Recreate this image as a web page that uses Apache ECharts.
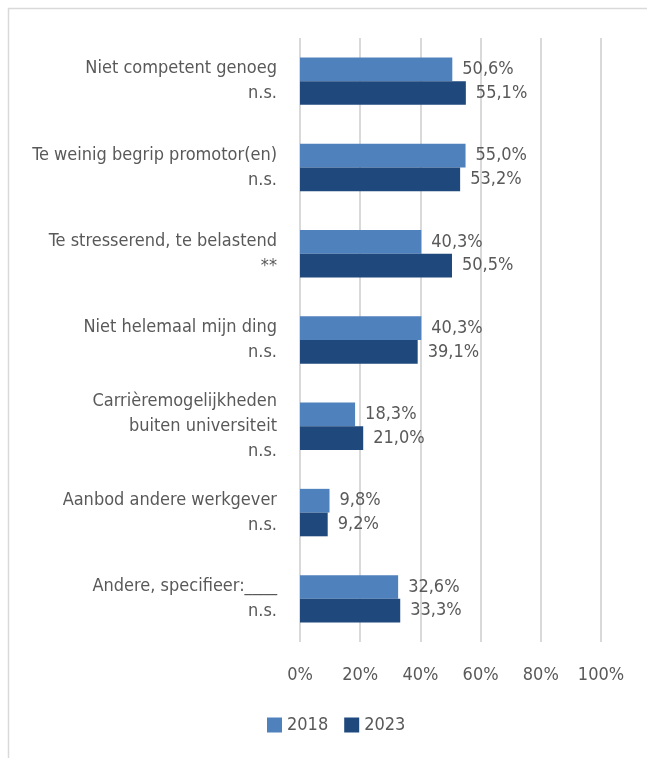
<!DOCTYPE html>
<html>
<head>
<meta charset="utf-8">
<script src="https://cdn.jsdelivr.net/npm/echarts@6/dist/echarts.min.js"></script>
<style>
html,body{margin:0;padding:0;background:#fff;}
#c{width:647px;height:758px;}
</style>
</head>
<body>
<div id="c"></div>
<script>
const categories = [
  "Niet competent genoeg\nn.s.",
  "Te weinig begrip promotor(en)\nn.s.",
  "Te stresserend, te belastend\n**",
  "Niet helemaal mijn ding\nn.s.",
  "Carrièremogelijkheden\nbuiten universiteit\nn.s.",
  "Aanbod andere werkgever\nn.s.",
  "Andere, specifieer:____\nn.s."
];
const values2018 = [50.6, 55.0, 40.3, 40.3, 18.3, 9.8, 32.6];
const values2023 = [55.1, 53.2, 50.5, 39.1, 21.0, 9.2, 33.3];
const seriesNames = ["2018", "2023"];
const xTicks = [0, 20, 40, 60, 80, 100];

const FONT = "'Liberation Sans Narrow', 'DejaVu Sans Condensed', sans-serif";
const TXT = "#595959";
const fmt = p => p.value.toFixed(1).replace('.', ',') + '%';

const chart = echarts.init(document.getElementById('c'), null, {renderer: 'canvas'});
chart.setOption({
  animation: false,
  backgroundColor: '#fff',
  textStyle: {fontFamily: FONT, color: TXT},
  graphic: [{
    type: 'rect',
    shape: {x: 8.5, y: 8.5, width: 800, height: 900},
    style: {fill: 'none', stroke: '#d9d9d9', lineWidth: 1.5},
    silent: true, z: -1
  }],
  grid: {left: 300, right: 46, top: 38, bottom: 116, containLabel: false},
  xAxis: {
    type: 'value', min: xTicks[0], max: xTicks[xTicks.length - 1], interval: 20,
    axisLine: {show: false}, axisTick: {show: false},
    splitLine: {show: true, lineStyle: {color: '#d9d9d9', width: 2}},
    axisLabel: {formatter: v => v + '%', color: TXT, fontSize: 18, fontFamily: FONT, margin: 24}
  },
  yAxis: {
    type: 'category', data: categories, inverse: true,
    axisLine: {show: false}, axisTick: {show: false},
    axisLabel: {color: TXT, fontSize: 18, fontFamily: FONT, lineHeight: 25, margin: 23, align: 'right'}
  },
  legend: {
    data: seriesNames, left: 267, top: 716, padding: 0, itemWidth: 15, itemHeight: 15, itemGap: 16,
    icon: 'rect',
    textStyle: {color: TXT, fontSize: 18, fontFamily: FONT}
  },
  series: [
    {
      name: seriesNames[0], type: 'bar', data: values2018,
      barGap: '0%', barCategoryGap: '45%',
      itemStyle: {color: '#4F81BD'},
      label: {show: true, position: 'right', distance: 10, formatter: fmt, color: TXT, fontSize: 18, fontFamily: FONT}
    },
    {
      name: seriesNames[1], type: 'bar', data: values2023,
      barGap: '0%', barCategoryGap: '45%',
      itemStyle: {color: '#1F497D'},
      label: {show: true, position: 'right', distance: 10, formatter: fmt, color: TXT, fontSize: 18, fontFamily: FONT}
    }
  ]
});
</script>
</body>
</html>
